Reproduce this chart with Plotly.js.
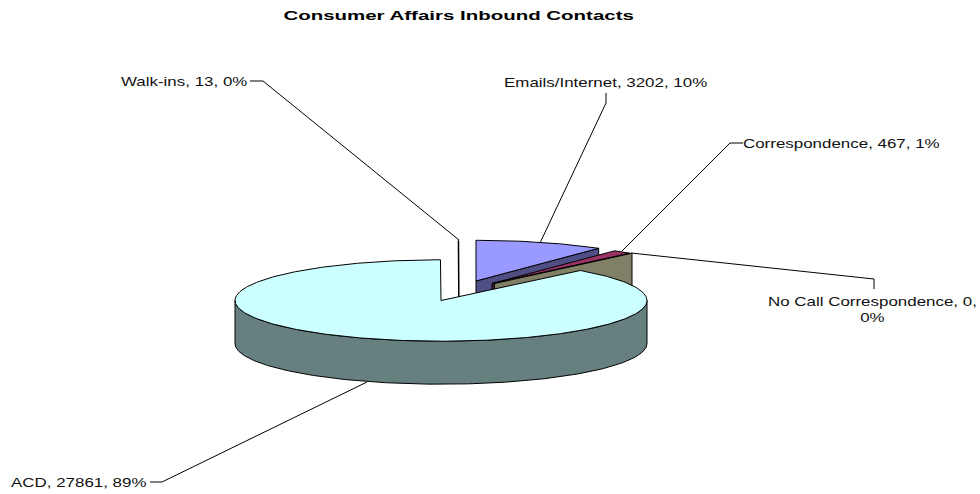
<!DOCTYPE html>
<html><head><meta charset="utf-8">
<script src="https://cdn.plot.ly/plotly-3.0.1.min.js"></script>
<style>html,body{margin:0;padding:0;background:#fff}#chart{width:980px;height:494px}
.annotation-text{transform-box:fill-box;transform-origin:center;transform:scaleX(1.355)}
.gtitle{transform-box:fill-box;transform-origin:center;transform:scaleX(1.54)}</style>
</head><body><div id="chart"></div>
<script>
// Data
const titleText = "Consumer Affairs Inbound Contacts";
const categories = ["Walk-ins","Emails/Internet","Correspondence","No Call Correspondence","ACD"];
const contacts = [13,3202,467,0,27861];
const percents = [0,10,1,0,89];   // as printed on the chart

// Look
const topColors  = ["#FFFFFF","#9999FF","#993366","#FFFFCC","#CCFFFF"];
const sideColors = ["#FFFFFF","#4F4F85","#4D1A33","#808066","#668080"];
const centerX = [459,476,492,494.5,441];   // exploded pie centres, axis units = px
const centerY = [281,281,283.5,283.5,300.5];
const RX = 206, RY = 40.7, DEPTH = 43;
const startAngle = -0.15;                // degrees clockwise from 12 o'clock

const total = contacts.reduce((a,b)=>a+b,0);
const traces = [];
let cum = startAngle;
const slices = categories.map((c,i)=>{
  const a0 = cum, a1 = cum + contacts[i]/total*360; cum = a1;
  return {i,a0,a1};
});
const rim = (s,a,dz=0)=>{
  const r = a*Math.PI/180;
  return [centerX[s.i]+RX*Math.sin(r), centerY[s.i]-RY*Math.cos(r)+dz];
};
function poly(pts,fill,name,w=1){
  traces.push({type:"scatter",mode:"lines",x:pts.map(p=>p[0]),y:pts.map(p=>p[1]),
    fill:"toself",fillcolor:fill,line:{color:"#000",width:w},hoverinfo:"skip",showlegend:false,name});
}
function arc(s,a0,a1,dz=0){
  const n = Math.max(2,Math.ceil(Math.abs(a1-a0)*1.5)), out=[];
  for(let k=0;k<=n;k++) out.push(rim(s,a0+(a1-a0)*k/n,dz));
  return out;
}
function topFace(s){
  const c=[centerX[s.i],centerY[s.i]];
  poly([c,...arc(s,s.a0,s.a1),c],topColors[s.i],categories[s.i]);
}
function endWall(s){ // the cut face at the slice's clockwise end, seen from the front
  const c=[centerX[s.i],centerY[s.i]], e=rim(s,s.a1);
  poly([c,e,[e[0],e[1]+DEPTH],[c[0],c[1]+DEPTH],c],sideColors[s.i],categories[s.i]);
}
const [walk,email,corr,none,acd] = slices;
// painter's order, back to front
poly([rim(walk,walk.a0),[centerX[0],centerY[0]+DEPTH]],"#fff","Walk-ins",1.5);
endWall(email); topFace(email);
endWall(corr);  topFace(corr);
endWall(none);
// ACD outer wall: the front half of the rim
{
  const upper = arc(acd,90,270), lower = arc(acd,270,90,DEPTH);
  poly([...upper,...lower,upper[0]],sideColors[4],"ACD");
}
topFace(acd);

// Leader lines, label anchors
const leaders = [
  [[250,81],[263,81],[459,240]],
  [[606,93],[606,103],[540,243]],
  [[743,143],[730,143],[622,251]],
  [[631,253],[874,279],[874,289]],
  [[150,482],[162,482],[367,382]]
];
leaders.forEach(l=>traces.unshift({type:"scatter",mode:"lines",x:l.map(p=>p[0]),y:l.map(p=>p[1]),
  line:{color:"#000",width:1},hoverinfo:"skip",showlegend:false}));

const labelX = [183.5,605.5,841.5,872.5,78];
const labelY = [81,82,143,310,482];
const labels = categories.map((c,i)=> c==="No Call Correspondence"
  ? `${c}, ${contacts[i]},<br>${percents[i]}%`
  : `${c}, ${contacts[i]}, ${percents[i]}%`);
const font = {family:"Liberation Sans, Arial, sans-serif",size:12.5,color:"#111"};
const annotations = labels.map((t,i)=>({text:t,x:labelX[i],y:labelY[i],xref:"x",yref:"y",
  showarrow:false,font,align:"center",xanchor:"center",yanchor:"middle"}));

Plotly.newPlot("chart",traces,{
  width:980,height:494,margin:{l:0,r:0,t:0,b:0},
  paper_bgcolor:"#fff",plot_bgcolor:"#fff",showlegend:false,
  title:{text:titleText,x:0.468,xanchor:"center",y:0.969,yanchor:"middle",
    font:{family:"Liberation Sans, Arial, sans-serif",size:13.3,color:"#000",weight:700}},
  xaxis:{range:[0,980],visible:false,fixedrange:true},
  yaxis:{range:[494,0],visible:false,fixedrange:true},
  annotations
},{displayModeBar:false,staticPlot:true});
</script></body></html>
